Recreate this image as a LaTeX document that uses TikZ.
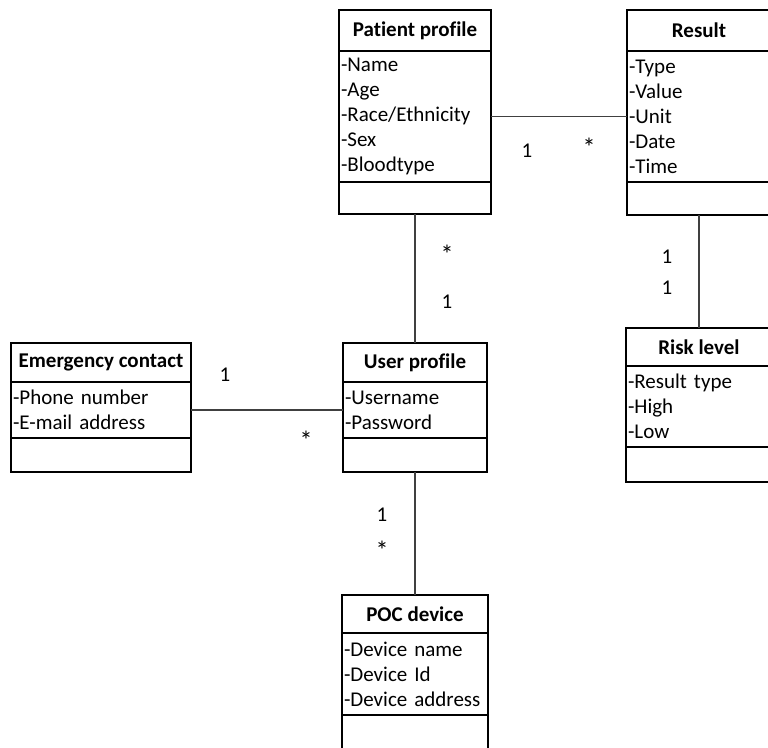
\documentclass[tikz,border=0pt]{standalone}
\usepackage{fontspec}
\setmainfont{Carlito}[Ligatures=NoCommon]
\begin{document}
\begin{tikzpicture}[x=1pt,y=-1pt]
    \tikzset{% styles for the class boxes
    head/.style={draw,line width=2.2pt,anchor=north west,inner sep=0pt,outer sep=0pt,font=\bfseries},
    attr/.style={draw,line width=2.2pt,anchor=north west,inner xsep=2pt,inner ysep=0pt,outer sep=0pt,align=left},
    meth/.style={draw,line width=2.2pt,anchor=north west,inner sep=0pt,outer sep=0pt},
    c1/.style={-,line width=1.2pt,black!75},
    mult/.style={inner sep=0pt},
    many/.style={mult,font=\fontsize{26}{26}\selectfont},
    }
    \useasboundingbox (0,0) rectangle (768,747);
    \fontsize{21}{25}\selectfont

    % Patient profile
    \node[head,minimum width=152,minimum height=41] (pph) at (339,10) {Patient profile};
    \node[attr,text width=148pt,minimum height=131] (ppa) at (pph.south west) {-Name\\-Age\\-Race/Ethnicity\\-Sex\\-Bloodtype};
    \node[meth,minimum width=152,minimum height=32] (ppm) at (ppa.south west) {};

    % Result
    \node[head,minimum width=144,minimum height=41] (resh) at (627,10) {Result};
    \node[attr,text width=140pt,minimum height=131] (resa) at (resh.south west) {-Type\\-Value\\-Unit\\-Date\\-Time};
    \node[meth,minimum width=144,minimum height=33] (resm) at (resa.south west) {};

    % Emergency contact
    \node[head,minimum width=180,minimum height=39] (ech) at (11,343) {Emergency contact};
    \node[attr,text width=176pt,minimum height=56] (eca) at (ech.south west) {-Phone number\\-E-mail address};
    \node[meth,minimum width=180,minimum height=34] (ecm) at (eca.south west) {};

    % User profile
    \node[head,minimum width=144,minimum height=39] (uph) at (343,343) {User profile};
    \node[attr,text width=140pt,minimum height=56] (upa) at (uph.south west) {-Username\\-Password};
    \node[meth,minimum width=144,minimum height=34] (upm) at (upa.south west) {};

    % Risk level
    \node[head,minimum width=146,minimum height=38] (rlh) at (626,328) {Risk level};
    \node[attr,text width=142pt,minimum height=81] (rla) at (rlh.south west) {-Result type\\-High\\-Low};
    \node[meth,minimum width=146,minimum height=35] (rlm) at (rla.south west) {};

    % POC device
    \node[head,minimum width=146,minimum height=38] (poch) at (342,595) {POC device};
    \node[attr,text width=142pt,minimum height=82] (poca) at (poch.south west) {-Device name\\-Device Id\\-Device address};
    \node[meth,minimum width=146,minimum height=34] (pocm) at (poca.south west) {};

    % Multiplicities
    \node[mult] (m1) at (527,151) {1};
    \node[many] (m2) at (589,147) {*};
    \node[many] (m3) at (447,254) {*};
    \node[mult] (m4) at (447,302) {1};
    \node[mult] (m5) at (667,257) {1};
    \node[mult] (m6) at (667,288) {1};
    \node[mult] (m7) at (225,375) {1};
    \node[many] (m8) at (306,440) {*};
    \node[mult] (m9) at (382,515) {1};
    \node[many] (m10) at (382,550) {*};

    % Edges
    \draw[c1] (ppa.east) -- (resa.west);
    \draw[c1] (ppm.south) -- (uph.north);
    \draw[c1] (resm.south) -- (rlh.north);
    \draw[c1] (eca.east) -- (upa.west);
    \draw[c1] (upm.south) -- (poch.north);
\end{tikzpicture}
\end{document}
